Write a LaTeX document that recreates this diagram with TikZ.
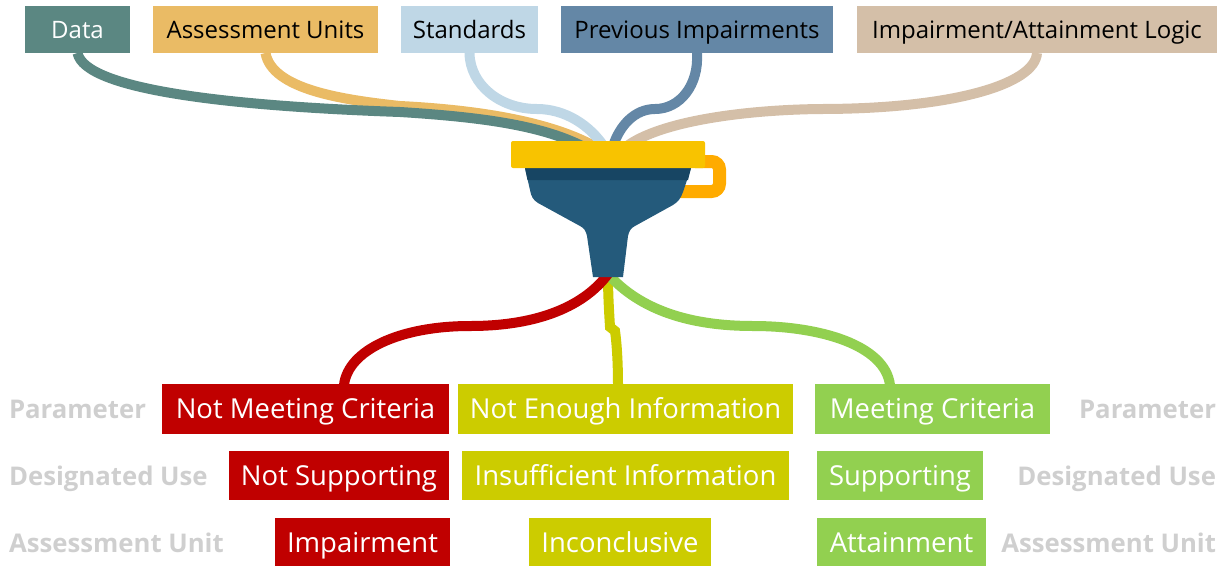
\documentclass[tikz,border=0pt]{standalone}
\usepackage{fontspec}
\setmainfont{Open Sans}
\usetikzlibrary{
	positioning
}
\definecolor{datacol}{HTML}{5B8782}
\definecolor{unitscol}{HTML}{EABB65}
\definecolor{standardscol}{HTML}{BFD7E6}
\definecolor{previouscol}{HTML}{6487A6}
\definecolor{logiccol}{HTML}{D4BFA8}
\definecolor{failcol}{HTML}{C00000}
\definecolor{unknowncol}{HTML}{CCCC00}
\definecolor{passcol}{HTML}{92D050}
\definecolor{sidecol}{HTML}{CFCFCF}
\definecolor{funnelcol}{HTML}{245A7B}
\definecolor{bandcol}{HTML}{174563}
\definecolor{rimcol}{HTML}{F8C300}
\definecolor{handlecol}{HTML}{FFAB00}
\tikzset{
	inputnode/.style={minimum width=#1*0.75pt, minimum height=47*0.75pt, inner sep=0pt, outer sep=0pt,
		font=\fontsize{18}{20}\selectfont, text height=13.2pt, text depth=0pt},
	outputnode/.style={minimum width=#1*0.75pt, minimum height=49*0.75pt, inner sep=0pt, outer sep=0pt,
		font=\fontsize{20.6}{24}\selectfont, text height=15.2pt, text depth=0pt, text=white},
	sidenode/.style={inner sep=0pt, outer sep=0pt, text=sidecol,
		font=\fontsize{19.3}{24}\selectfont\bfseries, text height=13.5pt, text depth=0pt},
	graphedge/.style={line width=7.5pt}
}

\begin{document}
\begin{tikzpicture}[x=0.75pt, y=-0.75pt]
	\useasboundingbox (0,0) rectangle (1225,565);

	% inputs
	\node[inputnode=105, fill=datacol, text=white, anchor=north west] (data) at (25,6) {Data};
	\node[inputnode=225, fill=unitscol, right = 23 of data] (units) {Assessment Units};
	\node[inputnode=137, fill=standardscol, right = 23 of units] (standards) {Standards};
	\node[inputnode=272, fill=previouscol, right = 23 of standards] (previous) {Previous Impairments};
	\node[inputnode=360, fill=logiccol, right = 24 of previous] (logic) {Impairment/Attainment Logic};

	% outputs
	\node[outputnode=287, minimum height=50.5*0.75pt, fill=failcol, anchor=north west] (meetno) at (162,383.5) {Not Meeting Criteria};
	\node[outputnode=335, minimum height=50.5*0.75pt, fill=unknowncol, right = 9 of meetno] (meetunknown) {Not Enough Information};
	\node[outputnode=235, minimum height=50.5*0.75pt, fill=passcol, right = 22 of meetunknown] (meetyes) {Meeting Criteria};

	\node[outputnode=220, fill=failcol, anchor=north west] (supportno) at (229,451) {Not Supporting};
	\node[outputnode=327, fill=unknowncol, right = 13 of supportno] (supportunknown) {Insufficient Information};
	\node[outputnode=166, fill=passcol, right = 28 of supportunknown] (supportyes) {Supporting};

	\node[outputnode=175, fill=failcol, anchor=north west] (impairment) at (275,518) {Impairment};
	\node[outputnode=182, fill=unknowncol, right = 79 of impairment] (inconclusive) {Inconclusive};
	\node[outputnode=169, fill=passcol, right = 106 of inconclusive] (attainment) {Attainment};

	% row labels
	\node[sidenode, anchor=west] (paramleft) at (9,409) {Parameter};
	\node[sidenode, anchor=west] (useleft) at (9,476) {Designated Use};
	\node[sidenode, anchor=west] (auleft) at (9,543) {Assessment Unit};
	\node[sidenode, anchor=east] (paramright) at (1216,409) {Parameter};
	\node[sidenode, anchor=east] (useright) at (1216,476) {Designated Use};
	\node[sidenode, anchor=east] (auright) at (1216,543) {Assessment Unit};

	% connector ends
	\coordinate (mouthdata) at (582,146);
	\coordinate (mouthunits) at (594,146);
	\coordinate (mouthstandards) at (605,148);
	\coordinate (mouthprevious) at (613,146);
	\coordinate (mouthlogic) at (627,146);
	\coordinate (spout) at (608,274);
	\coordinate (meetnotop) at (344,385);
	\coordinate (meetunknowntop) at (618,385);
	\coordinate (meetyestop) at (890,385);

	\draw[graphedge, unitscol] (units.south) .. controls (272,90) and (345,100) .. (400,106)
		.. controls (480,110) and (550,122) .. (mouthunits);
	\draw[graphedge, datacol] (data.south) .. controls (85,90) and (230,106) .. (400,112)
		.. controls (480,117) and (540,125) .. (mouthdata);
	\draw[graphedge, standardscol] (standards.south) .. controls (470,85) and (500,109) .. (537,109)
		.. controls (565,109) and (590,125) .. (mouthstandards);
	\draw[graphedge, previouscol] (previous.south) .. controls (699,85) and (680,109) .. (655,109)
		.. controls (635,109) and (620,125) .. (mouthprevious);
	\draw[graphedge, logiccol] (logic.south) .. controls (1035,85) and (950,109) .. (820,109)
		.. controls (740,110) and (660,122) .. (mouthlogic);

	\draw[graphedge, unknowncol] (spout) .. controls (608,295) and (609,310) .. (610,327)
		-- (615,331) .. controls (617,345) and (618,365) .. (meetunknowntop);
	\draw[graphedge, passcol] (spout) .. controls (640,310) and (690,326) .. (753,326)
		.. controls (820,326) and (885,345) .. (meetyestop);
	\draw[graphedge, failcol] (spout) .. controls (585,305) and (540,326) .. (470,326)
		.. controls (400,326) and (348,350) .. (meetnotop);

	% funnel
	\draw[line width=9.75pt, handlecol, rounded corners=6pt] (695,161.5) -- (719.5,161.5) -- (719.5,191.5) -- (680,191.5);
	\fill[funnelcol] (525,168) -- (530,190) .. controls (531,196) and (533,200) .. (538,203)
		-- (580,226) .. controls (584,228) and (586,231) .. (587,236)
		-- (593,277) -- (623,277) -- (628,236) .. controls (629,231) and (631,228) .. (635,226)
		-- (673,205) .. controls (678,202) and (681,198) .. (683,192) -- (691,168) -- cycle;
	\fill[bandcol] (525,168) -- (527.5,180) -- (688,180) -- (691,168) -- cycle;
	\node[fill=rimcol, rounded corners=1.5pt, minimum width=194*0.75pt, minimum height=27*0.75pt,
		inner sep=0pt, outer sep=0pt] (rim) at (608,154.5) {};
\end{tikzpicture}
\end{document}
